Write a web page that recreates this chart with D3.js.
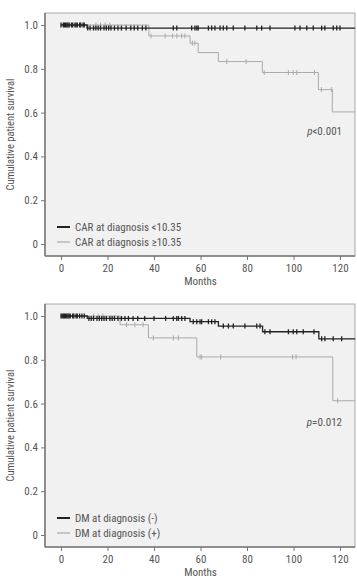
<!DOCTYPE html>
<html>
<head>
<meta charset="utf-8">
<script src="https://cdn.jsdelivr.net/npm/d3@7"></script>
<style>
  body { margin: 0; background: #fff; }
  svg text { font-family: "Liberation Sans Narrow", "Roboto Condensed", "DejaVu Sans Condensed", sans-serif; fill: #555; }
</style>
</head>
<body>
<div id="chart"></div>
<script>
const monthTicks = [0, 20, 40, 60, 80, 100, 120];
const survTicks = [0, 0.2, 0.4, 0.6, 0.8, 1.0];
const followUpEnd = 126.5;

// panel 1: CAR
const carLowTime = [0, 11.2];
const carLowSurv = [1, 0.986];
const carLowCensor = [0, 1, 1.5, 2, 2.5, 3, 3.5, 4.5, 5, 6, 6.5, 7, 8, 8.5, 9.5, 10,
  11.5, 12.5, 14, 15, 16, 17, 18.5, 19.5, 20.5, 21.5, 23, 24.5, 26, 28, 30, 31.5, 33, 35, 36.5,
  48.3, 49.8, 56.2, 57.6, 58.4, 59, 63.4, 64.8, 66.2, 68.4, 69.8, 71.3, 74.1, 79.1,
  84.2, 86.3, 89.9, 100.6, 102.8, 105.7, 108.5, 112.1, 113.5, 117.1, 118.6, 120];
const carHighTime = [0, 37.8, 55.5, 59, 67.7, 86.6, 110.7, 116.7];
const carHighSurv = [1, 0.95, 0.917, 0.874, 0.833, 0.783, 0.705, 0.603];
const carHighCensor = [15, 17, 19, 21, 38.7, 44.8, 48, 49.8, 51.9, 53.3, 56.5, 57.6,
  71.3, 79.6, 87.4, 97.8, 99.9, 101.4, 109, 112, 116.4];

// panel 2: DM
const dmNegTime = [0, 11.3, 55.5, 67.7, 86.7, 110.9];
const dmNegSurv = [1, 0.989, 0.974, 0.954, 0.928, 0.896];
const dmNegCensor = [0, 0.5, 1, 1.5, 2, 2.5, 3, 3.5, 4, 5, 5.5, 6.5, 7, 8, 9, 10,
  12, 13, 14, 15.5, 16.5, 17.5, 18.5, 19.5, 21, 22, 23, 24.5, 26, 27.5, 29, 31, 33, 36, 40, 45,
  48.3, 49.8, 50.5, 51.9, 53.3, 56.9, 58.4, 59.8, 60.5, 63.4, 64.8, 66.2,
  69.8, 72, 74.1, 79.1, 84.2, 85.6, 87.7, 89.9, 97.8, 99.9, 101.4, 104.2, 108.8,
  112.1, 113.5, 117.1, 120.7];
const dmPosTime = [0, 25.4, 37.6, 58.4, 116.9];
const dmPosSurv = [1, 0.96, 0.9, 0.813, 0.613];
const dmPosCensor = [14, 16, 18, 28.2, 31.8, 35.3, 39.7, 48.3, 50.5, 59.8, 60.5, 68.7, 99.6, 101.1, 119];

const panels = [
  { top: 0, p: "<0.001",
    groups: [
      { name: "CAR at diagnosis <10.35", time: carLowTime, surv: carLowSurv, censor: carLowCensor, color: "#222", w: 1.3 },
      { name: "CAR at diagnosis \u226510.35", time: carHighTime, surv: carHighSurv, censor: carHighCensor, color: "#aaa", w: 1 }
    ] },
  { top: 291, p: "=0.012",
    groups: [
      { name: "DM at diagnosis (-)", time: dmNegTime, surv: dmNegSurv, censor: dmNegCensor, color: "#222", w: 1.3 },
      { name: "DM at diagnosis (+)", time: dmPosTime, surv: dmPosSurv, censor: dmPosCensor, color: "#aaa", w: 1 }
    ] }
];

const svg = d3.select("#chart").append("svg")
  .attr("width", 357)
  .attr("height", 580);

const margin = { left: 45, right: 2, top: 13, bottom: 34 };
const panelH = 290;
const width = 357 - margin.left - margin.right;
const height = panelH - margin.top - margin.bottom;

panels.forEach(function(panel) {
  const g = svg.append("g")
    .attr("transform", "translate(" + margin.left + "," + (panel.top + margin.top) + ")");

  const x = d3.scaleLinear().domain([0, 120]).range([16, 295]);
  const y = d3.scaleLinear().domain([0, 1]).range([height - 12, 12]);

  g.append("rect")
    .attr("width", width)
    .attr("height", height)
    .attr("fill", "#f1f1f1")
    .attr("stroke", "#aaa")
    .attr("stroke-width", 1);

  // left and bottom axes
  const yAxis = g.append("g")
    .call(d3.axisLeft(y).tickValues(survTicks).tickSize(4).tickSizeOuter(0)
      .tickFormat(d => d === 0 ? "0" : d3.format(".1f")(d)));
  yAxis.select(".domain").remove();
  g.append("line").attr("x1", 0).attr("x2", 0).attr("y1", 0).attr("y2", height)
    .attr("stroke", "#777").attr("stroke-width", 1.5);

  const xAxis = g.append("g")
    .attr("transform", "translate(0," + height + ")")
    .call(d3.axisBottom(x).tickValues(monthTicks).tickSize(4).tickSizeOuter(0));
  xAxis.select(".domain").remove();
  g.append("line").attr("x1", 0).attr("x2", width).attr("y1", height).attr("y2", height)
    .attr("stroke", "#777").attr("stroke-width", 1.5);

  g.selectAll(".tick line").attr("stroke", "#777");
  g.selectAll(".tick text").style("font-size", "11px").attr("fill", "#555");
  yAxis.selectAll(".tick text").attr("x", -7);
  xAxis.selectAll(".tick text").attr("y", 8);

  g.append("text")
    .attr("x", x(60))
    .attr("y", height + 29)
    .attr("text-anchor", "middle")
    .style("font-size", "11px")
    .text("Months");

  g.append("text")
    .attr("transform", "translate(-31," + (height / 2) + ") rotate(-90)")
    .attr("text-anchor", "middle")
    .style("font-size", "10.5px")
    .text("Cumulative patient survival");

  // p value
  const pt = g.append("text")
    .attr("x", 297)
    .attr("y", 122)
    .attr("text-anchor", "end")
    .style("font-size", "11px");
  pt.append("tspan").style("font-style", "italic").text("p");
  pt.append("tspan").text(panel.p);

  const line = d3.line()
    .curve(d3.curveStepAfter)
    .x(d => x(d[0]))
    .y(d => y(d[1]));

  // draw gray first, black on top
  panel.groups.slice().reverse().forEach(function(grp) {
    const pts = grp.time.map((t, i) => [t, grp.surv[i]]);
    pts.push([followUpEnd, grp.surv[grp.surv.length - 1]]);

    g.append("path")
      .attr("d", line(pts))
      .attr("fill", "none")
      .attr("stroke", grp.color)
      .attr("stroke-width", grp.w);

    g.selectAll(null)
      .data(grp.censor)
      .enter().append("line")
      .attr("x1", d => x(d))
      .attr("x2", d => x(d))
      .attr("y1", d => y(grp.surv[d3.bisectRight(grp.time, d) - 1]) - 2.5)
      .attr("y2", d => y(grp.surv[d3.bisectRight(grp.time, d) - 1]) + 2.5)
      .attr("stroke", grp.color)
      .attr("stroke-width", grp.w);
  });

  // legend
  const leg = g.append("g").attr("transform", "translate(12," + (height - 29) + ")");
  panel.groups.forEach(function(grp, i) {
    leg.append("line")
      .attr("x1", 0).attr("x2", 13)
      .attr("y1", i * 15).attr("y2", i * 15)
      .attr("stroke", grp.color)
      .attr("stroke-width", i === 0 ? 2 : 1.2);
    leg.append("text")
      .attr("x", 18)
      .attr("y", i * 15)
      .attr("dy", "0.35em")
      .style("font-size", "11px")
      .text(grp.name);
  });
});
</script>
</body>
</html>
